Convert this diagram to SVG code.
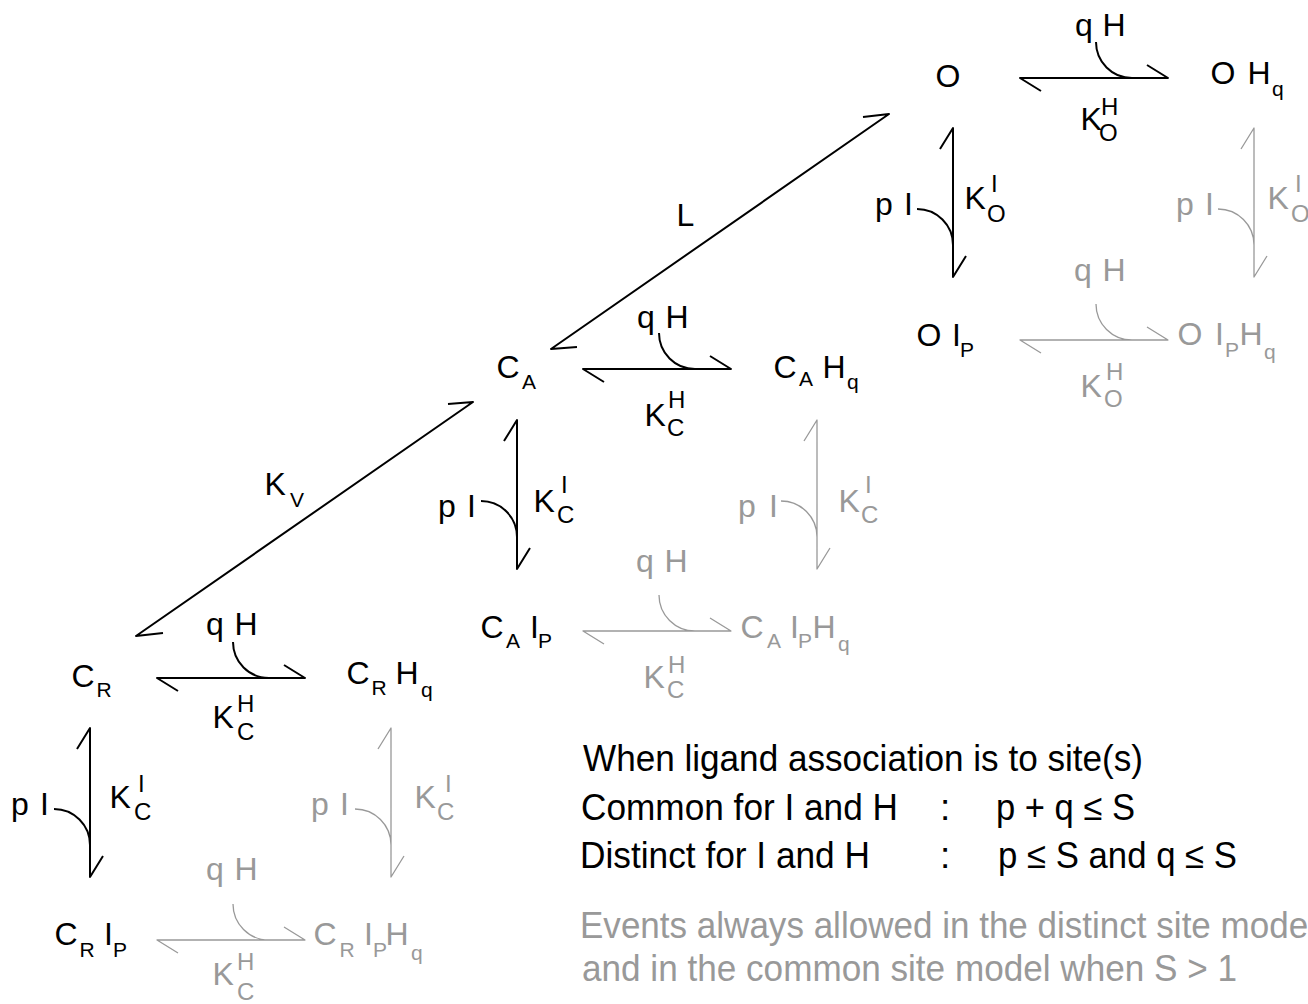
<svg xmlns="http://www.w3.org/2000/svg" width="1308" height="1004" viewBox="0 0 1308 1004">
<style>
text{font-family:"Liberation Sans",Arial,Helvetica,sans-serif}
.b{fill:#000}
.g{fill:#999}
.m{font-size:32px}
.s{font-size:21px}
.k{font-size:24px}
.note{font-size:37px}
.cb{stroke:#000;stroke-width:2;fill:none;stroke-linejoin:round}
.cg{stroke:#999;stroke-width:1.3;fill:none;stroke-linejoin:round}
</style>
<defs>
<path id="ha" d="M127,-13L148,0H0L21,13M76,-36A36,36 0 0 0 112,0"/>
<path id="va" d="M-13,21L0,0V149L13,128M-36,81A36,36 0 0 1 0,117"/>
</defs>
<rect width="1308" height="1004" fill="#fff"/>

<g id="connectors">
<use href="#ha" x="1020" y="78" class="cb"/>
<use href="#ha" x="1020" y="340" class="cg"/>
<use href="#va" x="953" y="128" class="cb"/>
<use href="#va" x="1254" y="128" class="cg"/>
<use href="#ha" x="583" y="369" class="cb"/>
<use href="#ha" x="583" y="631" class="cg"/>
<use href="#va" x="517" y="420" class="cb"/>
<use href="#va" x="817" y="420" class="cg"/>
<use href="#ha" x="157" y="678" class="cb"/>
<use href="#ha" x="157" y="940" class="cg"/>
<use href="#va" x="90" y="728" class="cb"/>
<use href="#va" x="391" y="728" class="cg"/>
<path class="cb" d="M863,117L889,114L551,349L577,347"/>
<path class="cb" d="M448,404L473,402L136,636L163,633"/>
</g>

<g id="connector-labels">
<text class="b m"><tspan x="1075" y="36">q</tspan><tspan x="1102.5" y="36">H</tspan></text>
<text class="b"><tspan class="m" x="1080.5" y="130">K</tspan><tspan class="k" x="1101" y="115">H</tspan><tspan class="k" x="1099" y="141">O</tspan></text>
<text class="b m"><tspan x="875" y="215">p</tspan><tspan x="904" y="215">I</tspan></text>
<text class="b"><tspan class="m" x="964.5" y="209">K</tspan><tspan class="k" x="991" y="192">I</tspan><tspan class="k" x="987" y="222">O</tspan></text>
<text class="g m"><tspan x="1074" y="281">q</tspan><tspan x="1102.5" y="281">H</tspan></text>
<text class="g"><tspan class="m" x="1080.5" y="397">K</tspan><tspan class="k" x="1106" y="380">H</tspan><tspan class="k" x="1104" y="407">O</tspan></text>
<text class="g m"><tspan x="1176" y="215">p</tspan><tspan x="1205" y="215">I</tspan></text>
<text class="g"><tspan class="m" x="1267.5" y="209">K</tspan><tspan class="k" x="1295" y="192">I</tspan><tspan class="k" x="1291" y="222">O</tspan></text>

<text class="b m"><tspan x="637" y="328">q</tspan><tspan x="665.5" y="328">H</tspan></text>
<text class="b"><tspan class="m" x="644.5" y="426">K</tspan><tspan class="k" x="668" y="408">H</tspan><tspan class="k" x="667" y="436">C</tspan></text>
<text class="b m"><tspan x="438" y="517">p</tspan><tspan x="467" y="517">I</tspan></text>
<text class="b"><tspan class="m" x="533.5" y="512">K</tspan><tspan class="k" x="561" y="493">I</tspan><tspan class="k" x="557" y="523">C</tspan></text>
<text class="g m"><tspan x="636" y="572">q</tspan><tspan x="664.5" y="572">H</tspan></text>
<text class="g"><tspan class="m" x="643.5" y="688">K</tspan><tspan class="k" x="668" y="673">H</tspan><tspan class="k" x="667" y="698">C</tspan></text>
<text class="g m"><tspan x="738" y="517">p</tspan><tspan x="769" y="517">I</tspan></text>
<text class="g"><tspan class="m" x="838.5" y="512">K</tspan><tspan class="k" x="865" y="493">I</tspan><tspan class="k" x="861" y="523">C</tspan></text>

<text class="b m"><tspan x="206" y="635">q</tspan><tspan x="234.5" y="635">H</tspan></text>
<text class="b"><tspan class="m" x="212.5" y="728">K</tspan><tspan class="k" x="237" y="712">H</tspan><tspan class="k" x="237" y="740">C</tspan></text>
<text class="b m"><tspan x="11" y="815">p</tspan><tspan x="40" y="815">I</tspan></text>
<text class="b"><tspan class="m" x="109.5" y="808">K</tspan><tspan class="k" x="138" y="792">I</tspan><tspan class="k" x="134" y="820">C</tspan></text>
<text class="g m"><tspan x="206" y="880">q</tspan><tspan x="234.5" y="880">H</tspan></text>
<text class="g"><tspan class="m" x="212.5" y="985">K</tspan><tspan class="k" x="237" y="970">H</tspan><tspan class="k" x="237" y="1000">C</tspan></text>
<text class="g m"><tspan x="311" y="815">p</tspan><tspan x="340" y="815">I</tspan></text>
<text class="g"><tspan class="m" x="414.5" y="808">K</tspan><tspan class="k" x="445" y="792">I</tspan><tspan class="k" x="437" y="820">C</tspan></text>

<text class="b m" x="676.5" y="226">L</text>
<text class="b"><tspan class="m" x="264.5" y="495">K</tspan><tspan class="s" x="290" y="507">V</tspan></text>
</g>

<g id="node-O"><text class="b m" x="935.5" y="87">O</text></g>
<g id="node-OHq"><text class="b"><tspan class="m" x="1210.5" y="84">O</tspan><tspan class="m" x="1247.5" y="84">H</tspan><tspan class="s" x="1272" y="96">q</tspan></text></g>
<g id="node-OIp"><text class="b"><tspan class="m" x="916.5" y="346">O</tspan><tspan class="m" x="952" y="346">I</tspan><tspan class="s" x="960" y="357">P</tspan></text></g>
<g id="node-OIpHq"><text class="g"><tspan class="m" x="1177.5" y="345">O</tspan><tspan class="m" x="1215" y="345">I</tspan><tspan class="s" x="1225" y="357">P</tspan><tspan class="m" x="1239.5" y="345">H</tspan><tspan class="s" x="1264" y="359">q</tspan></text></g>

<g id="node-CA"><text class="b"><tspan class="m" x="496.5" y="378">C</tspan><tspan class="s" x="522" y="389">A</tspan></text></g>
<g id="node-CAHq"><text class="b"><tspan class="m" x="773.5" y="378">C</tspan><tspan class="s" x="799" y="386">A</tspan><tspan class="m" x="822.5" y="378">H</tspan><tspan class="s" x="847" y="389">q</tspan></text></g>
<g id="node-CAIp"><text class="b"><tspan class="m" x="480.5" y="638">C</tspan><tspan class="s" x="506" y="648">A</tspan><tspan class="m" x="530" y="638">I</tspan><tspan class="s" x="538" y="648">P</tspan></text></g>
<g id="node-CAIpHq"><text class="g"><tspan class="m" x="740.5" y="638">C</tspan><tspan class="s" x="767" y="648">A</tspan><tspan class="m" x="790" y="638">I</tspan><tspan class="s" x="798" y="648">P</tspan><tspan class="m" x="812.5" y="638">H</tspan><tspan class="s" x="838" y="651">q</tspan></text></g>

<g id="node-CR"><text class="b"><tspan class="m" x="71.5" y="687">C</tspan><tspan class="s" x="96.5" y="697">R</tspan></text></g>
<g id="node-CRHq"><text class="b"><tspan class="m" x="346.5" y="684">C</tspan><tspan class="s" x="371.5" y="695">R</tspan><tspan class="m" x="395.5" y="684">H</tspan><tspan class="s" x="421" y="697">q</tspan></text></g>
<g id="node-CRIp"><text class="b"><tspan class="m" x="54.5" y="945">C</tspan><tspan class="s" x="79.5" y="957">R</tspan><tspan class="m" x="104" y="945">I</tspan><tspan class="s" x="113" y="957">P</tspan></text></g>
<g id="node-CRIpHq"><text class="g"><tspan class="m" x="313.5" y="945">C</tspan><tspan class="s" x="339.5" y="957">R</tspan><tspan class="m" x="364" y="945">I</tspan><tspan class="s" x="373" y="957">P</tspan><tspan class="m" x="385.5" y="945">H</tspan><tspan class="s" x="411" y="960">q</tspan></text></g>

<g id="legend">
<text class="b note" x="583" y="771" textLength="560" lengthAdjust="spacingAndGlyphs">When ligand association is to site(s)</text>
<text class="b note" x="581" y="820" textLength="317" lengthAdjust="spacingAndGlyphs">Common for I and H</text>
<text class="b note" x="940" y="820">:</text>
<text class="b note" x="996" y="820" textLength="139" lengthAdjust="spacingAndGlyphs">p + q ≤ S</text>
<text class="b note" x="580" y="868" textLength="290" lengthAdjust="spacingAndGlyphs">Distinct for I and H</text>
<text class="b note" x="940" y="868">:</text>
<text class="b note" x="998" y="868" textLength="239" lengthAdjust="spacingAndGlyphs">p ≤ S and q ≤ S</text>
<text class="g note" x="580" y="938" textLength="736" lengthAdjust="spacingAndGlyphs">Events always allowed in the distinct site model</text>
<text class="g note" x="582" y="981" textLength="655" lengthAdjust="spacingAndGlyphs">and in the common site model when S &gt; 1</text>
</g>
</svg>
